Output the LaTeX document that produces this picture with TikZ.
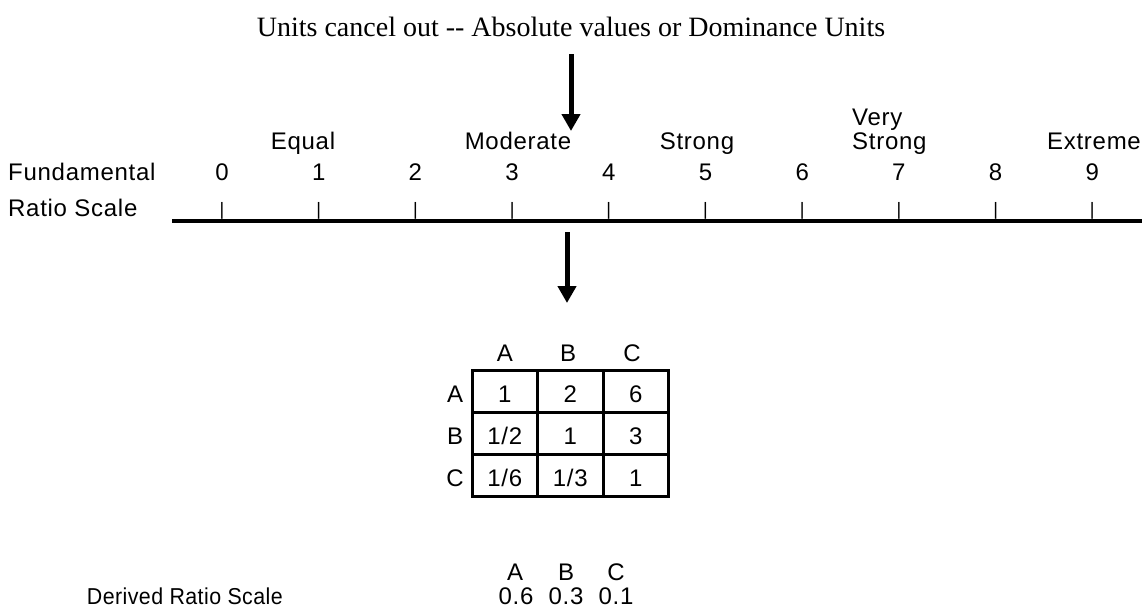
\documentclass[tikz,border=0pt]{standalone}
\usepackage{fontspec}
\setmainfont{Liberation Serif}
\newfontfamily\arialf[LetterSpace=3]{Liberation Sans}
\newfontfamily\arialn{Liberation Sans}
\newfontfamily\arialw[LetterSpace=2]{Liberation Sans}
\usetikzlibrary{arrows.meta}
\begin{document}
\begin{tikzpicture}[x=1pt,y=-1pt,
  lbl/.style={font=\arialf\fontsize{24}{27}\selectfont, inner sep=0pt, anchor=base},
  tick/.style={font=\arialn\fontsize{18}{20}\selectfont, inner sep=0pt, anchor=base},
  clbl/.style={font=\arialf\fontsize{24}{27}\selectfont, inner sep=0pt, anchor=center},
  cell/.style={draw, line width=3pt, minimum width=65.5pt, minimum height=42pt, inner sep=0pt,
    text height=23pt, text depth=0pt, font=\arialf\fontsize{24}{27}\selectfont},
  bigarrow/.style={line width=5pt, -{Triangle[width=18pt,length=17pt]}},
]
\useasboundingbox (0,0) rectangle (1142,608);
% title
\node[font=\fontsize{28}{32}\selectfont, anchor=base, inner sep=0pt] (title) at (571,36)
  {Units cancel out -{}- Absolute values or Dominance Units};
% arrow 1
\coordinate (a1s) at (571,54);
\coordinate (a1e) at (571,131);
\draw[bigarrow] (a1s) -- (a1e);
% scale
\node[lbl, anchor=base west] (fund) at (8,180) {Fundamental};
\node[lbl, anchor=base west] (ratio) at (8,216) {Ratio Scale};
\foreach \i in {0,...,9} {
  \node[lbl] (n\i) at ({222+96.7*\i},180) {\i};
  \node[tick] (t\i) at ({222+96.7*\i},215) {|};
}
\node[lbl] (equal) at (303,149) {Equal};
\node[lbl] (moderate) at (518,149) {Moderate};
\node[lbl] (strong) at (697,149) {Strong};
\node[lbl, anchor=base west] (very) at (852,125) {Very};
\node[lbl, anchor=base west] (vstrong) at (852,149) {Strong};
\node[lbl] (extreme) at (1094,149) {Extreme};
\coordinate (ls) at (172,221);
\coordinate (le) at (1142,221);
\draw[line width=4pt] (ls) -- (le);
% arrow 2
\coordinate (a2s) at (567,232);
\coordinate (a2e) at (567,303);
\draw[bigarrow] (a2s) -- (a2e);
% matrix
\node[clbl] (hA) at (504.75,353) {A};
\node[clbl] (hB) at (568,353) {B};
\node[clbl] (hC) at (632,353) {C};
\node[clbl] (rA) at (455,394) {A};
\node[clbl] (rB) at (455,436) {B};
\node[clbl] (rC) at (455,478) {C};
\node[cell] (m11) at (504.75,391) {1};
\node[cell] (m12) at (570.25,391) {2};
\node[cell] (m13) at (635.75,391) {6};
\node[cell] (m21) at (504.75,433) {1/2};
\node[cell] (m22) at (570.25,433) {1};
\node[cell] (m23) at (635.75,433) {3};
\node[cell] (m31) at (504.75,475) {1/6};
\node[cell] (m32) at (570.25,475) {1/3};
\node[cell] (m33) at (635.75,475) {1};
% derived
\node[lbl] (dA) at (515,580) {A};
\node[lbl] (dB) at (566,580) {B};
\node[lbl] (dC) at (616,580) {C};
\node[lbl, anchor=base east] (derived) at (283,604)
  {\scalebox{0.93}[1]{\arialw\fontsize{23}{26}\selectfont Derived Ratio Scale}};
\node[lbl] (d1) at (516,604) {0.6};
\node[lbl] (d2) at (566,604) {0.3};
\node[lbl] (d3) at (616,604) {0.1};
\end{tikzpicture}
\end{document}
